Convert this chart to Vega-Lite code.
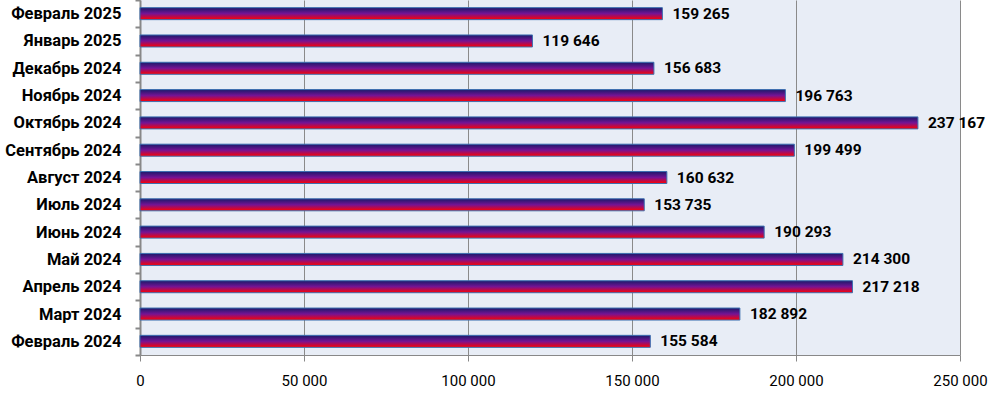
{
  "$schema": "https://vega.github.io/schema/vega-lite/v6.json",
  "autosize": {"type": "none"},
  "width": 820,
  "height": 355,
  "padding": {"left": 140, "top": 0, "right": 44, "bottom": 39},
  "background": "white",
  "config": {
    "locale": {"number": {"decimal": ",", "thousands": " ", "grouping": [3], "currency": ["", ""]}},
    "font": "Roboto",
    "view": {"fill": "#E8EDF6", "stroke": null}
  },
  "data": {"values": [
    {"month": "Февраль 2025", "value": 159265},
    {"month": "Январь 2025", "value": 119646},
    {"month": "Декабрь 2024", "value": 156683},
    {"month": "Ноябрь 2024", "value": 196763},
    {"month": "Октябрь 2024", "value": 237167},
    {"month": "Сентябрь 2024", "value": 199499},
    {"month": "Август 2024", "value": 160632},
    {"month": "Июль 2024", "value": 153735},
    {"month": "Июнь 2024", "value": 190293},
    {"month": "Май 2024", "value": 214300},
    {"month": "Апрель 2024", "value": 217218},
    {"month": "Март 2024", "value": 182892},
    {"month": "Февраль 2024", "value": 155584}
  ]},
  "encoding": {
    "y": {"field": "month", "type": "nominal", "sort": null,
      "scale": {"paddingInner": 0, "paddingOuter": 0},
      "axis": {"title": null, "labelFontSize": 16.5, "labelFontWeight": "bold", "labelColor": "#000", "labelPadding": 14,
        "domainColor": "#888", "domainWidth": 2, "tickColor": "#888", "tickSize": 5, "tickWidth": 2, "tickBand": "extent", "grid": false}},
    "x": {"field": "value", "type": "quantitative",
      "scale": {"domain": [0, 250000], "nice": false},
      "axis": {"title": null, "values": [0, 50000, 100000, 150000, 200000, 250000], "format": ",d",
        "labelFontSize": 15, "labelColor": "#000", "labelPadding": 12, "labelFont": "Roboto", "labelFlush": false, "labelBound": false,
        "domainColor": "#888", "tickColor": "#888", "tickSize": 6, "gridColor": "#8a8a8a", "gridWidth": 1, "grid": true}}
  },
  "layer": [
    {"mark": {"type": "bar", "size": 12, "stroke": "#3d6fb0", "strokeWidth": 1,
      "fill": {"gradient": "linear", "x1": 0, "y1": 0, "x2": 0, "y2": 1,
        "stops": [{"offset": 0, "color": "#1a1a6a"}, {"offset": 0.5, "color": "#761394"}, {"offset": 1, "color": "#ff0000"}]}}},
    {"mark": {"type": "text", "align": "left", "dx": 10, "fontSize": 15.5, "fontWeight": "bold", "color": "#000"},
      "encoding": {"text": {"field": "value", "type": "quantitative", "format": ",d"}}}
  ]
}
